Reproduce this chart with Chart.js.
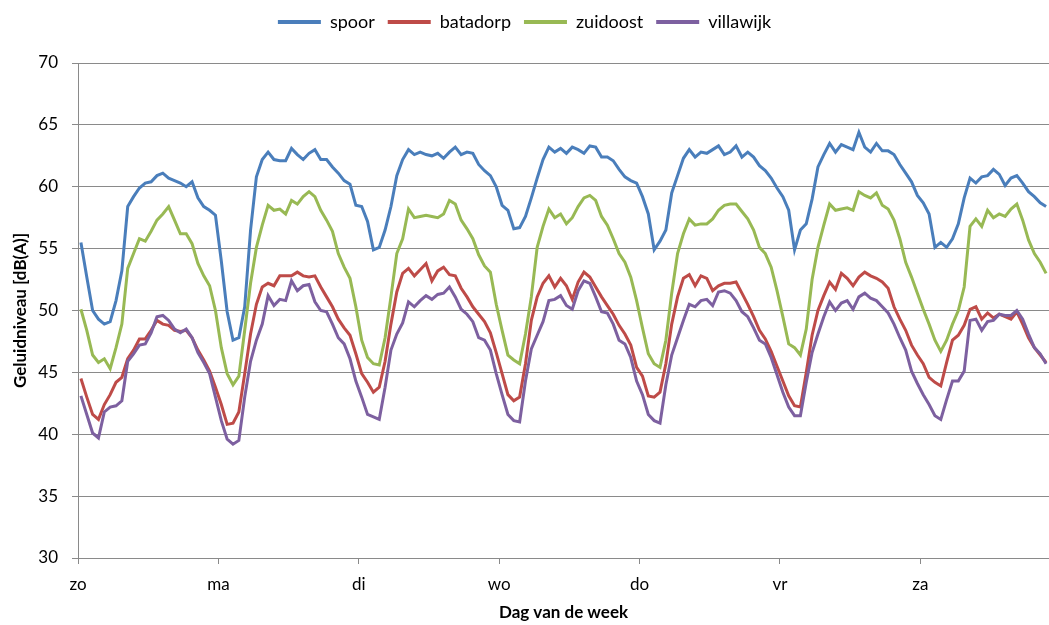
<!DOCTYPE html>
<html>
<head>
<meta charset="utf-8">
<script src="https://cdn.jsdelivr.net/npm/chart.js@4.4.1/dist/chart.umd.min.js"></script>
<style>
  html, body { margin: 0; padding: 0; background: #fff; }
</style>
</head>
<body>
<canvas id="geluidChart" width="1049" height="625"></canvas>
<script>
// Dagen van de week, elk 24 uurwaarden
const dayLabels = ['zo', 'ma', 'di', 'wo', 'do', 'vr', 'za'];
const hoursPerDay = 24;
const hourCount = 166;

// Geluidniveau per uur [dB(A)]
const spoor = [
  55.5, 52.7, 50.0, 49.3, 48.9, 49.1, 50.8, 53.2, 58.4, 59.2, 59.9, 60.3, 60.4, 60.9, 61.1, 60.7, 60.5, 60.3, 60.0, 60.4, 59.1, 58.4, 58.1, 57.7,
  54.0, 49.9, 47.6, 47.8, 50.3, 56.5, 60.8, 62.2, 62.8, 62.2, 62.1, 62.1, 63.1, 62.6, 62.2, 62.7, 63.0, 62.2, 62.2, 61.6, 61.1, 60.5, 60.2, 58.5,
  58.4, 57.2, 54.9, 55.1, 56.5, 58.4, 60.9, 62.2, 63.0, 62.6, 62.8, 62.6, 62.5, 62.7, 62.3, 62.8, 63.2, 62.6, 62.8, 62.7, 61.8, 61.3, 60.9, 60.0,
  58.5, 58.1, 56.6, 56.7, 57.6, 59.1, 60.7, 62.2, 63.2, 62.8, 63.1, 62.7, 63.2, 63.0, 62.7, 63.3, 63.2, 62.4, 62.4, 62.1, 61.4, 60.8, 60.5, 60.3,
  59.2, 57.8, 54.9, 55.6, 56.5, 59.5, 60.9, 62.3, 63.0, 62.4, 62.8, 62.7, 63.0, 63.3, 62.6, 62.8, 63.3, 62.4, 62.8, 62.4, 61.7, 61.3, 60.7, 59.9,
  59.2, 58.1, 54.9, 56.5, 57.0, 59.0, 61.6, 62.6, 63.5, 62.8, 63.4, 63.2, 63.0, 64.4, 63.2, 62.8, 63.5, 62.9, 62.9, 62.6, 61.8, 61.1, 60.4, 59.3,
  58.7, 57.8, 55.1, 55.5, 55.1, 55.8, 57.0, 59.1, 60.7, 60.3, 60.8, 60.9, 61.4, 61.0, 60.1, 60.7, 60.9, 60.3, 59.6, 59.2, 58.7, 58.4
];
const batadorp = [
  44.5, 43.0, 41.6, 41.2, 42.4, 43.2, 44.2, 44.6, 46.1, 46.8, 47.7, 47.7, 48.4, 49.2, 48.9, 48.8, 48.4, 48.3, 48.4, 47.8, 46.8, 46.0, 45.1, 43.8,
  42.4, 40.8, 40.9, 41.8, 44.9, 48.1, 50.5, 51.9, 52.2, 52.0, 52.8, 52.8, 52.8, 53.1, 52.8, 52.7, 52.8, 51.9, 51.1, 50.3, 49.3, 48.6, 48.0, 46.5,
  44.9, 44.2, 43.4, 43.8, 45.9, 48.9, 51.5, 53.0, 53.4, 52.8, 53.3, 53.8, 52.4, 53.2, 53.5, 52.9, 52.8, 51.8, 51.1, 50.3, 49.7, 49.1, 48.2, 46.6,
  44.9, 43.2, 42.7, 43.0, 45.7, 49.2, 51.1, 52.2, 52.8, 51.9, 52.6, 52.0, 50.9, 52.3, 53.1, 52.7, 51.9, 51.1, 50.4, 49.7, 48.8, 48.1, 47.2, 45.4,
  44.7, 43.1, 43.0, 43.4, 45.7, 48.9, 51.1, 52.6, 52.9, 52.0, 52.8, 52.6, 51.6, 52.0, 52.2, 52.2, 52.3, 51.4, 50.5, 49.5, 48.4, 47.7, 46.7, 45.5,
  44.3, 43.1, 42.3, 42.2, 45.0, 48.0, 50.0, 51.2, 52.3, 51.7, 53.0, 52.6, 52.0, 52.7, 53.1, 52.8, 52.6, 52.3, 51.8, 50.3, 49.3, 48.4, 47.2, 46.4,
  45.7, 44.6, 44.2, 43.9, 45.8, 47.6, 48.0, 48.8, 50.1, 50.3, 49.3, 49.8, 49.4, 49.7, 49.5, 49.3, 49.9, 48.9, 47.8, 47.0, 46.4, 45.8
];
const zuidoost = [
  50.1, 48.4, 46.4, 45.8, 46.1, 45.3, 47.0, 48.9, 53.4, 54.6, 55.8, 55.6, 56.4, 57.3, 57.8, 58.4, 57.3, 56.2, 56.2, 55.4, 53.8, 52.8, 52.0, 50.0,
  47.0, 44.9, 44.0, 44.7, 48.4, 52.2, 55.1, 56.9, 58.5, 58.1, 58.2, 57.8, 58.9, 58.6, 59.2, 59.6, 59.2, 58.1, 57.3, 56.4, 54.6, 53.5, 52.6, 50.3,
  47.6, 46.2, 45.7, 45.6, 47.8, 51.1, 54.6, 55.8, 58.2, 57.5, 57.6, 57.7, 57.6, 57.5, 57.8, 58.9, 58.6, 57.3, 56.6, 55.8, 54.5, 53.6, 53.1, 50.5,
  48.4, 46.4, 46.0, 45.7, 48.1, 51.1, 55.1, 56.8, 58.2, 57.5, 57.8, 57.0, 57.5, 58.4, 59.1, 59.3, 58.9, 57.6, 56.9, 55.8, 54.6, 53.9, 52.7, 50.8,
  48.6, 46.5, 45.7, 45.4, 47.6, 51.4, 54.6, 56.2, 57.4, 56.9, 57.0, 57.0, 57.4, 58.1, 58.5, 58.6, 58.6, 58.0, 57.4, 56.5, 55.1, 54.6, 53.5, 51.6,
  49.5, 47.3, 47.0, 46.4, 48.5, 52.5, 55.1, 56.9, 58.6, 58.1, 58.2, 58.3, 58.1, 59.6, 59.3, 59.1, 59.5, 58.5, 58.2, 57.3, 55.8, 53.9, 52.7, 51.4,
  50.1, 48.9, 47.6, 46.7, 47.6, 48.9, 50.0, 51.9, 56.8, 57.4, 56.8, 58.1, 57.5, 57.8, 57.6, 58.2, 58.6, 57.3, 55.7, 54.6, 53.9, 53.0
];
const villawijk = [
  43.1, 41.6, 40.1, 39.7, 41.8, 42.2, 42.3, 42.7, 45.9, 46.5, 47.2, 47.3, 48.2, 49.5, 49.6, 49.2, 48.5, 48.2, 48.5, 47.8, 46.6, 45.8, 44.9, 43.0,
  41.1, 39.6, 39.2, 39.5, 43.0, 45.9, 47.6, 48.9, 51.2, 50.4, 50.9, 50.8, 52.4, 51.6, 52.0, 52.1, 50.7, 50.0, 49.9, 48.9, 47.8, 47.3, 46.1, 44.3,
  43.0, 41.6, 41.4, 41.2, 43.8, 46.8, 48.1, 49.0, 50.7, 50.3, 50.8, 51.2, 50.9, 51.3, 51.4, 51.9, 51.1, 50.1, 49.7, 49.1, 47.8, 47.6, 46.8, 44.9,
  43.2, 41.6, 41.1, 41.0, 44.3, 46.9, 48.0, 49.1, 50.8, 50.9, 51.2, 50.4, 50.1, 51.6, 52.4, 52.2, 51.1, 49.9, 49.8, 48.9, 47.6, 47.3, 46.2, 44.3,
  43.2, 41.6, 41.1, 40.9, 44.0, 46.4, 47.8, 49.2, 50.5, 50.3, 50.8, 50.9, 50.4, 51.5, 51.6, 51.4, 50.8, 49.9, 49.5, 48.6, 47.6, 47.3, 46.2, 44.8,
  43.4, 42.2, 41.5, 41.5, 44.2, 46.6, 48.1, 49.5, 50.7, 50.0, 50.6, 50.8, 50.1, 51.1, 51.4, 51.0, 50.8, 50.3, 49.8, 48.9, 47.8, 46.8, 45.1, 44.1,
  43.2, 42.4, 41.5, 41.2, 42.8, 44.3, 44.3, 45.1, 49.2, 49.3, 48.4, 49.1, 49.2, 49.7, 49.6, 49.6, 50.0, 49.3, 48.1, 47.0, 46.5, 45.7
];

const fontFamily = 'Lato, "Open Sans", sans-serif';
const gridColor = '#8a8a8a';

// elk uur in het midden van zijn vak plaatsen
function toPoints(values) {
    return values.map((v, i) => ({ x: i + 0.5, y: v }));
}

function makeSeries(label, values, color, order) {
    return {
        label: label,
        data: toPoints(values),
        borderColor: color,
        backgroundColor: color,
        borderWidth: 3,
        pointRadius: 0,
        tension: 0,
        fill: false,
        order: order
    };
}

// legenda-hoogte vastzetten zodat het plotvlak op dezelfde plek begint
const legendHeight = {
    id: 'legendHeight',
    beforeInit(chart) {
        const origFit = chart.legend.fit;
        chart.legend.fit = function () {
            origFit.call(this);
            this.height = 63;
        };
    }
};

const ctx = document.getElementById('geluidChart').getContext('2d');
const chart = new Chart(ctx, {
    type: 'line',
    data: {
        datasets: [
            makeSeries('spoor', spoor, '#4A7EBB', 3),
            makeSeries('batadorp', batadorp, '#BE4B48', 2),
            makeSeries('zuidoost', zuidoost, '#98B954', 1),
            makeSeries('villawijk', villawijk, '#7D60A0', 0)
        ]
    },
    options: {
        responsive: false,
        animation: false,
        devicePixelRatio: 1,
        layout: { padding: 0 },
        plugins: {
            tooltip: { enabled: false },
            legend: {
                position: 'top',
                labels: {
                    boxWidth: 43,
                    boxHeight: 4,
                    padding: 13,
                    color: '#000',
                    font: { family: fontFamily, size: 18 },
                    sort: (a, b) => a.datasetIndex - b.datasetIndex,
                    generateLabels: (c) => Chart.defaults.plugins.legend.labels.generateLabels(c)
                        .map(item => ({ ...item, lineWidth: 0 }))
                }
            }
        },
        scales: {
            x: {
                type: 'linear',
                min: 0,
                max: hourCount,
                ticks: {
                    stepSize: hoursPerDay,
                    includeBounds: false,
                    autoSkip: false,
                    maxRotation: 0,
                    padding: 10,
                    color: '#000',
                    font: { family: fontFamily, size: 17 },
                    callback: (value) => dayLabels[value / hoursPerDay] || ''
                },
                grid: { drawOnChartArea: false, tickLength: 6, color: gridColor },
                border: { color: gridColor },
                title: {
                    display: true,
                    text: 'Dag van de week',
                    color: '#000',
                    font: { family: fontFamily, size: 17, weight: 'bold' },
                    padding: { top: 4, bottom: 2 }
                },
                afterFit: (scale) => { scale.height = 67; }
            },
            y: {
                min: 30,
                max: 70,
                ticks: {
                    stepSize: 5,
                    padding: 14,
                    color: '#000',
                    font: { family: fontFamily, size: 17 }
                },
                grid: { color: gridColor, tickLength: 6 },
                border: { color: gridColor },
                title: {
                    display: true,
                    text: 'Geluidniveau [dB(A)]',
                    color: '#000',
                    font: { family: fontFamily, size: 17, weight: 'bold' },
                    padding: { top: 10, bottom: 4 }
                },
                afterFit: (scale) => { scale.width = 78; }
            }
        }
    },
    plugins: [legendHeight]
});
</script>
</body>
</html>
